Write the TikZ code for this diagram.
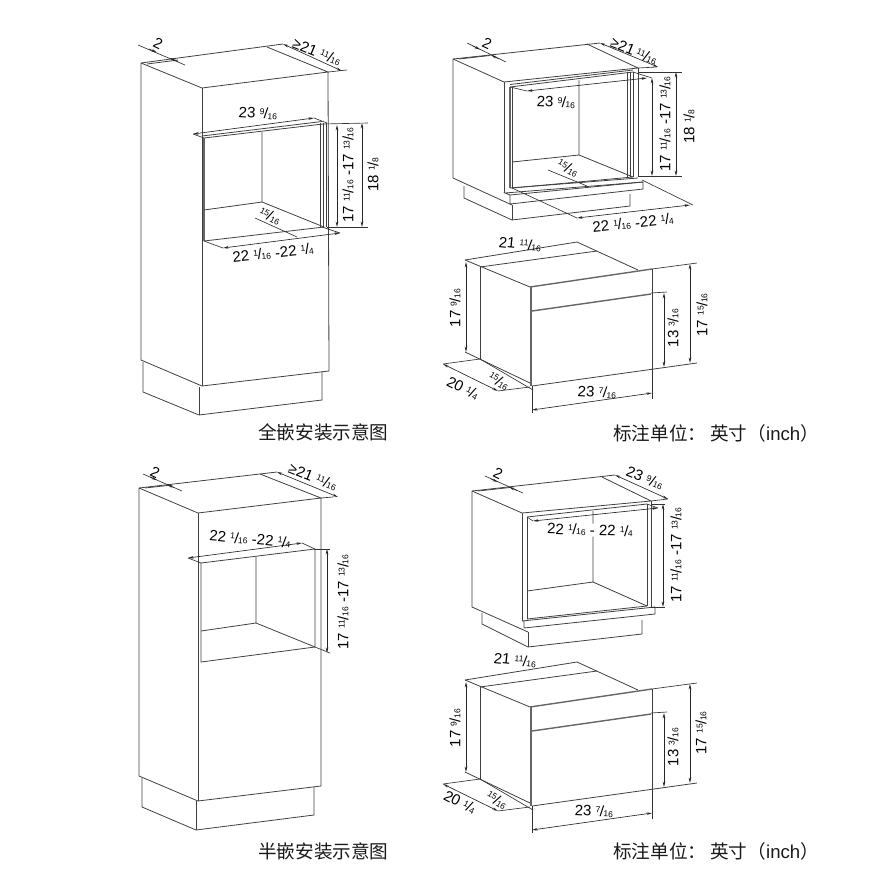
\documentclass[tikz,border=0pt]{standalone}
\usepackage{fontspec}
\setmainfont{Liberation Sans}
\newfontfamily\cjkfont{Noto Sans CJK SC}
\newcommand{\numsize}{\fontsize{15}{15}\selectfont}
\newcommand{\smallsize}{\fontsize{8.5}{8.5}\selectfont}
\newcommand{\fr}[2]{\raisebox{3.8pt}{\smallsize #1}\kern-.4pt/\kern-.4pt{\smallsize #2}}
\tikzset{
    body/.style={line width=.8pt, color=black!75},
    dimline/.style={line width=.65pt, color=black!85, <->, >={Stealth[length=5.5pt,width=2.6pt]}},
    extline/.style={line width=.65pt, color=black!80},
    thickline/.style={line width=1.4pt, color=black!60},
    dimtext/.style={font=\numsize, inner sep=0pt, text=black},
    caption/.style={font=\cjkfont\fontsize{18.6}{19}\selectfont, inner sep=0pt, anchor=west, text=black!90},
}
\usetikzlibrary{arrows.meta}

\begin{document}
\begin{tikzpicture}[x=1pt,y=-1pt]
    \useasboundingbox (0,0) rectangle (886,887);

    %%%%%% 全嵌柜（左上） %%%%%%%
    % 柜体
    \coordinate (A1) at (141,63);
    \coordinate (B1) at (202,88);
    \coordinate (C1) at (328,72);
    \coordinate (D1) at (267,47);
    \coordinate (E1) at (283,44);
    \draw [body] (A1) -- (E1);
    \draw [body] (A1) -- (B1) -- (C1) -- (D1);
    \draw [body] (A1) -- (141,360) -- (202,386) -- (329,371) -- (C1);
    \draw [body] (B1) -- (202,386);
    \draw [body] (147,64) -- (178,60);
    % 底座
    \draw [body] (143,362) -- (143,392) -- (199,415) -- (322,400) -- (322,371);
    \draw [body] (199,387) -- (199,415);
    % 开口
    \coordinate (F1) at (204,138);
    \coordinate (G1) at (323,124);
    \coordinate (H1) at (204,241);
    \coordinate (I1) at (324,227);
    \coordinate (J1) at (262,132);
    \coordinate (K1) at (262,202);
    \draw [body] (F1) -- (G1) (H1) -- (I1);
    \draw [body] (202,136) -- (322,121.5);
    \draw [thickline] (204,138) -- (204,241);
    \draw [body] (J1) -- (K1) -- (204,210);
    \draw [body] (K1) -- (I1);
    \foreach \i in {320,323,326}
    {
        \draw [body] (\i,123) -- (\i,227);
    }
    % 尺寸线
    \draw [extline] (138,45) -- (185,65);
    \draw [dimline, <-] (170,58) -- (178,61.5);
    \draw [dimline, <-] (157,52.5) -- (149,49);
    \draw [dimline] (283,44) -- (342,71);
    \draw [extline] (C1) -- (347,70);
    \draw [extline] (F1) -- (193,134);
    \draw [dimline] (193,134) -- (314,118);
    \draw [extline] (314,118) -- (327,123);
    \draw [extline] (G1) -- (368,123);
    \draw [extline] (327,227) -- (368,227);
    \draw [dimline] (337,125) -- (337,227);
    \draw [dimline] (362,123) -- (362,227);
    \draw [extline] (255,218) -- (297,237);
    \draw [extline] (H1) -- (223,248);
    \draw [dimline] (223,248) -- (340,233);
    \draw [extline] (322,227) -- (340,233);
    % 标注
    \node [dimtext, rotate=-25] (n2a) at (158,44) {2};
    \node [dimtext, rotate=-22] (n21a) at (317,52) {≥21 \fr{11}{16}};
    \node [dimtext, rotate=-4] (n23a) at (258,113) {23 \fr{9}{16}};
    \node [dimtext, rotate=90] (n17a) at (348,175) {17 \fr{11}{16} -17 \fr{13}{16}};
    \node [dimtext, rotate=90] (n18a) at (373,175) {18 \fr{1}{8}};
    \node [dimtext, rotate=-27] (n15a) at (270,216) {\fr{15}{16}};
    \node [dimtext, rotate=6] (n22a) at (273,253) {22 \fr{1}{16} -22 \fr{1}{4}};
    \node [caption] (cap1) at (258,432) {全嵌安装示意图};

    %%%%%% 全嵌柜（右上） %%%%%%%
    % 柜体
    \coordinate (A2) at (453,59);
    \coordinate (B2) at (504,82);
    \coordinate (C2) at (638,68);
    \coordinate (D2) at (587,44);
    \coordinate (E2) at (600,43);
    \draw [body] (A2) -- (E2);
    \draw [body] (A2) -- (B2) -- (C2) -- (D2);
    \draw [body] (A2) -- (453,178) -- (512,205);
    \draw [body] (B2) -- (504,193);
    \draw [body] (C2) -- (638,177);
    \draw [body] (459,59) -- (490,55.5);
    % 底板与底座
    \draw [body] (505,193) -- (643,182) -- (643,189) -- (510,204) -- (510,195) -- cycle;
    \draw [body] (510,195) -- (643,182);
    \draw [body] (510,188) -- (638,178);
    \draw [body] (464,186) -- (464,198) -- (512,220) -- (630,206) -- (630,194);
    \draw [body] (512,205) -- (512,220);
    % 开口
    \coordinate (F2) at (510,87);
    \coordinate (G2) at (633,72);
    \coordinate (H2) at (512,188);
    \coordinate (I2) at (633,177);
    \coordinate (J2) at (579,80);
    \coordinate (K2) at (579,155);
    \draw [body] (F2) -- (G2) (H2) -- (I2);
    \draw [body] (510,84.5) -- (633,70);
    \draw [thickline] (510,87) -- (510,188);
    \draw [body] (512,87) -- (512,188);
    \draw [body] (J2) -- (K2) -- (512,162);
    \draw [body] (K2) -- (I2);
    \foreach \i in {627,630,633}
    {
        \draw [body] (\i,72) -- (\i,177);
    }
    % 尺寸线
    \draw [extline] (467,43) -- (506,62);
    \draw [dimline, <-] (491,55) -- (499,59);
    \draw [dimline, <-] (480,49.5) -- (473,46);
    \draw [dimline] (E2) -- (658,67);
    \draw [extline] (C2) -- (657,67);
    \draw [extline] (F2) -- (527,91);
    \draw [dimline] (527,91) -- (647,78);
    \draw [extline] (G2) -- (652,78);
    \draw [extline] (638,72) -- (682,72);
    \draw [extline] (638,176) -- (682,176);
    \draw [dimline] (652,78) -- (652,176);
    \draw [dimline] (676,72) -- (676,176);
    \draw [extline] (548,170) -- (587,186);
    \draw [extline] (H2) -- (577,218);
    \draw [dimline] (577,218) -- (690,205);
    \draw [extline] (642,180) -- (693,205);
    % 标注
    \node [dimtext, rotate=-25] (n2b) at (487,44) {2};
    \node [dimtext, rotate=-22] (n21b) at (634,51) {≥21\,\fr{11}{16}};
    \node [dimtext, rotate=-3] (n23b) at (556,102) {23 \fr{9}{16}};
    \node [dimtext, rotate=90] (n17b) at (665,124) {17 \fr{11}{16} -17 \fr{13}{16}};
    \node [dimtext, rotate=90] (n18b) at (689,127) {18 \fr{1}{8}};
    \node [dimtext, rotate=-30] (n15b) at (568,168) {\fr{15}{16}};
    \node [dimtext, rotate=6] (n22b) at (633,223) {22 \fr{1}{16} -22 \fr{1}{4}};

    %%%%%% 半嵌柜（左下） %%%%%%%
    % 柜体
    \coordinate (A3) at (139,488);
    \coordinate (B3) at (198,513);
    \coordinate (C3) at (321,498);
    \coordinate (D3) at (260,474);
    \coordinate (E3) at (277,472);
    \draw [body] (A3) -- (E3);
    \draw [body] (A3) -- (B3) -- (C3) -- (D3);
    \draw [body] (A3) -- (139,776) -- (198,801) -- (321,786) -- (C3);
    \draw [body] (B3) -- (198,801);
    \draw [body] (145,488) -- (172,485);
    % 底座
    \draw [body] (142,778) -- (142,807) -- (196,830) -- (314,815) -- (314,787);
    \draw [body] (196,801) -- (196,830);
    % 开口
    \coordinate (F3) at (201,563);
    \coordinate (G3) at (315,549);
    \coordinate (H3) at (201,662);
    \coordinate (I3) at (315,647);
    \coordinate (J3) at (256,557);
    \coordinate (K3) at (256,623);
    \draw [body] (F3) -- (G3) -- (I3) -- (H3) -- cycle;
    \draw [body] (J3) -- (K3) -- (201,631);
    \draw [body] (K3) -- (I3);
    % 尺寸线
    \draw [extline] (143,474) -- (182,491);
    \draw [dimline, <-] (167,484.5) -- (174,487.5);
    \draw [dimline, <-] (157,480) -- (150,477);
    \draw [dimline] (E3) -- (338,497);
    \draw [extline] (C3) -- (333,497);
    \draw [extline] (F3) -- (188,558);
    \draw [dimline] (188,558) -- (302,543);
    \draw [extline] (302,543) -- (G3);
    \draw [extline] (G3) -- (330,549);
    \draw [extline] (I3) -- (330,653);
    \draw [dimline] (327,549) -- (327,653);
    % 标注
    \node [dimtext, rotate=-25] (n2c) at (155,473) {2};
    \node [dimtext, rotate=-22] (n21c) at (313,477) {≥21 \fr{11}{16}};
    \node [dimtext, rotate=-5] (n22c) at (250,539) {22 \fr{1}{16} -22 \fr{1}{4}};
    \node [dimtext, rotate=90] (n17c) at (343,602) {17 \fr{11}{16} -17 \fr{13}{16}};
    \node [caption] (cap2) at (258,851) {半嵌安装示意图};

    %%%%%% 半嵌柜（右下） %%%%%%%
    % 柜体
    \coordinate (A4) at (472,491);
    \coordinate (B4) at (522,513);
    \coordinate (C4) at (651,501);
    \coordinate (D4) at (602,477);
    \coordinate (E4) at (615,475);
    \draw [body] (A4) -- (E4);
    \draw [body] (A4) -- (B4) -- (C4) -- (D4);
    \draw [body] (A4) -- (472,607) -- (528,632);
    \draw [body] (B4) -- (522,621);
    \draw [body] (C4) -- (651,607);
    \draw [body] (478,491) -- (510,487.5);
    % 底板与底座
    \draw [body] (522,621) -- (655,607) -- (655,614) -- (524,628) -- (524,621);
    \draw [body] (482,613) -- (482,624) -- (528,647) -- (642,634) -- (642,620);
    \draw [body] (528,632) -- (528,647);
    % 开口
    \coordinate (F4) at (527,517);
    \coordinate (G4) at (647,504);
    \coordinate (H4) at (527,619);
    \coordinate (I4) at (647,606);
    \coordinate (J4) at (593,511);
    \coordinate (K4) at (593,582);
    \draw [body] (F4) -- (G4) (H4) -- (I4);
    \draw [body] (F4) -- (H4) (G4) -- (I4);
    \draw [body] (J4) -- (K4) -- (527,591);
    \draw [body] (K4) -- (I4);
    % 尺寸线
    \draw [extline] (485,476) -- (523,493);
    \draw [dimline, <-] (509,487) -- (517,490.5);
    \draw [dimline, <-] (498,482) -- (491,479);
    \draw [dimline] (E4) -- (668,499);
    \draw [extline] (C4) -- (668,499);
    \draw [extline] (F4) -- (533,521);
    \draw [dimline] (533,521) -- (658,508);
    \draw [extline] (G4) -- (658,508);
    \draw [extline] (651,504) -- (665,504);
    \draw [extline] (651,607) -- (665,607);
    \draw [dimline] (663,504) -- (663,607);
    % 标注
    \node [dimtext, rotate=-25] (n2d) at (498,474) {2};
    \node [dimtext, rotate=-22] (n23d) at (645,478) {23 \fr{9}{16}};
    \node [dimtext, rotate=-2, fill=white, inner sep=1pt] (n22d) at (590,530) {22 \fr{1}{16} - 22 \fr{1}{4}};
    \node [dimtext, rotate=90] (n17d) at (676,555) {17 \fr{11}{16} -17 \fr{13}{16}};

    %%%%%% 机器（右侧两幅） %%%%%%%
    \foreach \oy in {0,420}
    {
        \begin{scope}[shift={(0,\oy)}]
            % 机身
            \coordinate (P) at (465,260);
            \coordinate (Q) at (577,242);
            \coordinate (R) at (530,287);
            \coordinate (S) at (652,269);
            \coordinate (T) at (532,386);
            \draw [body] (P) -- (Q) -- (638,270);
            \draw [body] (480,267) -- (597,251);
            \draw [body] (P) -- (R);
            \draw [thickline] (R) -- (S);
            \draw [body] (480,267) -- (480,359);
            \draw [body] (465,352) -- (530,383);
            \draw [thickline] (531,287) -- (531,386);
            \draw [thickline] (532,311) -- (651,294);
            \draw [body] (S) -- (652,370);
            \draw [body] (T) -- (697,363);
            % 尺寸线
            \draw [extline] (S) -- (697,263);
            \draw [extline] (651,293) -- (667,292);
            \draw [dimline] (466,262) -- (466,352);
            \draw [dimline] (664,293) -- (664,367);
            \draw [dimline] (690,264) -- (690,363);
            \draw [extline] (T) -- (532,413);
            \draw [extline] (652,370) -- (652,399);
            \draw [dimline] (532,410) -- (652,393);
            \draw [extline] (443,364) -- (480,359);
            \draw [dimline] (443,364) -- (498,391);
            \draw [extline] (498,391) -- (530,387);
            \draw [extline] (480,359) -- (533,390);
        \end{scope}
    }
    % 标注
    \node [dimtext, rotate=-6] (n21e) at (520,244) {21 \fr{11}{16}};
    \node [dimtext, rotate=90] (n17e) at (455,308) {17 \fr{9}{16}};
    \node [dimtext, rotate=90] (n13e) at (673,328) {13 \fr{3}{16}};
    \node [dimtext, rotate=90] (n17f) at (702,315) {17 \fr{15}{16}};
    \node [dimtext, rotate=-4] (n23e) at (597,392) {23 \fr{7}{16}};
    \node [dimtext, rotate=-27] (n20e) at (463,388) {20 \fr{1}{4}};
    \node [dimtext, rotate=-33] (n15e) at (499,381) {\fr{15}{16}};
    \node [caption] (cap3) at (613,433) {标注单位： 英寸（\fontspec{Liberation Sans}inch\cjkfont）};

    \node [dimtext, rotate=-6] (n21g) at (515,660) {21 \fr{11}{16}};
    \node [dimtext, rotate=90] (n17g) at (455,728) {17 \fr{9}{16}};
    \node [dimtext, rotate=90] (n13g) at (673,747) {13 \fr{3}{16}};
    \node [dimtext, rotate=90] (n17h) at (701,733) {17 \fr{15}{16}};
    \node [dimtext, rotate=-3] (n23g) at (594,811) {23 \fr{7}{16}};
    \node [dimtext, rotate=-27] (n20g) at (460,802) {20 \fr{1}{4}};
    \node [dimtext, rotate=-33] (n15g) at (497,800) {\fr{15}{16}};
    \node [caption] (cap4) at (613,851) {标注单位： 英寸（\fontspec{Liberation Sans}inch\cjkfont）};
\end{tikzpicture}
\end{document}
